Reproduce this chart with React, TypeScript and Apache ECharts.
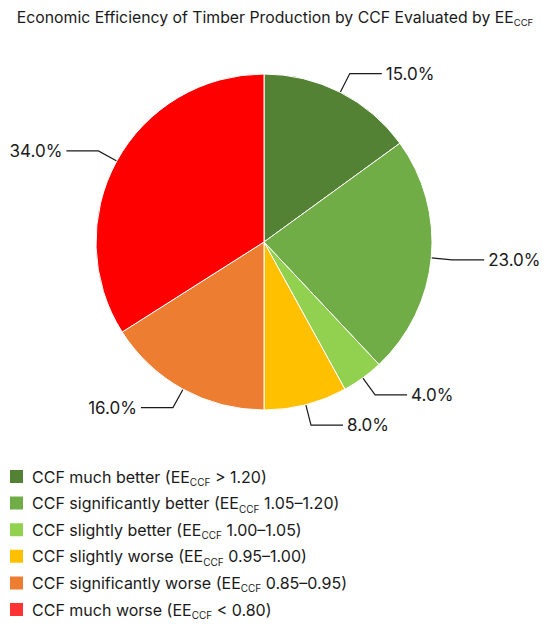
import React, { useEffect, useRef } from "react";
import * as echarts from "echarts";

const categories = [
  "CCF much better",
  "CCF significantly better",
  "CCF slightly better",
  "CCF slightly worse",
  "CCF significantly worse",
  "CCF much worse",
];
const ranges = ["> 1.20", "1.05–1.20", "1.00–1.05", "0.95–1.00", "0.85–0.95", "< 0.80"];
const shares = [15.0, 23.0, 4.0, 8.0, 16.0, 34.0];
const colors = ["#548235", "#70AD47", "#92D050", "#FFC000", "#ED7D31", "#FF0000"];
const legendColors = ["#548235", "#70AD47", "#92D050", "#FFC000", "#ED7D31", "#FF3333"];

const FONT = "Inter, 'Noto Sans', sans-serif";

export default function App() {
  const ref = useRef<HTMLDivElement>(null);
  useEffect(() => {
    if (!ref.current) return;
    const chart = echarts.init(ref.current, undefined, { renderer: "svg" });
    chart.setOption({
      animation: false,
      title: {
        text: "{a|Economic Efficiency of Timber Production by CCF Evaluated by EE}{sub|CCF}",
        left: "center",
        top: 7,
        padding: 0,
        textStyle: {
          fontWeight: "normal",
          rich: {
            a: { fontSize: 15.8, fontWeight: "normal", color: "#1a1a1a", fontFamily: FONT, lineHeight: 20 },
            sub: { fontSize: 9.5, fontWeight: "normal", color: "#1a1a1a", fontFamily: FONT, verticalAlign: "bottom" },
          },
        },
      },
      legend: {
        orient: "vertical",
        left: 8,
        top: 468,
        padding: 0,
        itemWidth: 15,
        itemHeight: 15,
        itemGap: 7.6,
        icon: "rect",
        data: categories.map((c, i) => ({ name: c, itemStyle: { color: legendColors[i] } })),
        formatter: (name: string) => {
          const i = categories.indexOf(name);
          return `{a|${name} (EE}{sub|CCF}{a| ${ranges[i]})}`;
        },
        textStyle: {
          padding: [0, 0, 0, 3],
          rich: {
            a: { fontSize: 16, color: "#1a1a1a", fontFamily: FONT, lineHeight: 21 },
            sub: { fontSize: 10, color: "#1a1a1a", fontFamily: FONT, verticalAlign: "bottom" },
          },
        },
      },
      series: [
        {
          type: "pie",
          center: [264, 242],
          radius: 168,
          startAngle: 90,
          clockwise: true,
          avoidLabelOverlap: false,
          itemStyle: { borderColor: "#ffffff", borderWidth: 1 },
          label: {
            formatter: (p: any) => `${Number(p.value).toFixed(1)}%`,
            fontSize: 17,
            color: "#1a1a1a",
            fontFamily: FONT,
            distanceToLabelLine: 4,
          },
          labelLine: {
            length: 21,
            length2: 32,
            lineStyle: { color: "#1a1a1a", width: 1.2 },
          },
          emphasis: { disabled: true },
          data: categories.map((c, i) => ({
            name: c,
            value: shares[i],
            itemStyle: { color: colors[i] },
          })),
        },
      ],
    });
    return () => chart.dispose();
  }, []);
  return (
    <div
      ref={ref}
      style={{ position: "absolute", left: 0, top: 0, width: 550, height: 630 }}
    />
  );
}
